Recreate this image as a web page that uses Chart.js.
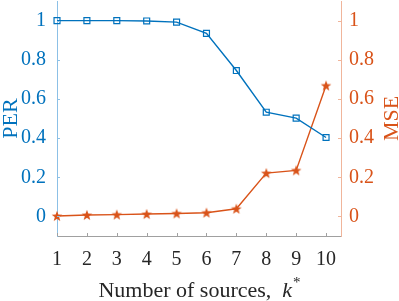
<!DOCTYPE html>
<html><head><meta charset="utf-8">
<script src="https://cdn.jsdelivr.net/npm/chart.js@4.4.0/dist/chart.umd.min.js"></script>
<style>html,body{margin:0;padding:0;background:#fff}#wrap{width:399px;height:301px}</style>
</head><body><div id="wrap"><canvas id="c"></canvas></div>
<script>
const sources = [1, 2, 3, 4, 5, 6, 7, 8, 9, 10]
const per = [1, 1, 1, 0.998, 0.992, 0.935, 0.745, 0.532, 0.502, 0.403]
const mse = [0.002, 0.007, 0.009, 0.012, 0.015, 0.019, 0.039, 0.221, 0.235, 0.668]
const yTicks = [0, 0.2, 0.4, 0.6, 0.8, 1]

const blue = '#0072BD'
const orange = '#D95319'
const serif = "'Liberation Serif', 'Times New Roman', serif"

function starImg(color) {
    const c = document.createElement('canvas')
    c.width = c.height = 12
    const g = c.getContext('2d')
    g.fillStyle = color
    g.beginPath()
    for (let i = 0; i < 10; i++) {
        const r = i % 2 ? 2.3 : 5.6
        const a = -Math.PI / 2 + i * Math.PI / 5
        g.lineTo(6 + r * Math.cos(a), 6.4 + r * Math.sin(a))
    }
    g.closePath()
    g.fill()
    return c
}

function noPad(s) { s.paddingTop = 0; s.paddingBottom = 0 }

const decor = {
    id: 'decor',
    afterDraw(chart) {
        const {ctx, chartArea: a, scales: {x, y, y1}} = chart
        ctx.save()
        ctx.lineWidth = 1
        ctx.strokeStyle = '#8cc0e6'
        yTicks.forEach(v => {
            const p = Math.round(y.getPixelForValue(v)) + 0.5
            ctx.beginPath(); ctx.moveTo(a.left, p); ctx.lineTo(a.left + 3, p); ctx.stroke()
        })
        ctx.strokeStyle = '#f0b59b'
        yTicks.forEach(v => {
            const p = Math.round(y1.getPixelForValue(v)) + 0.5
            ctx.beginPath(); ctx.moveTo(a.right, p); ctx.lineTo(a.right - 3, p); ctx.stroke()
        })
        ctx.strokeStyle = '#a0a0a0'
        sources.forEach(v => {
            const p = Math.round(x.getPixelForValue(v)) + 0.5
            ctx.beginPath(); ctx.moveTo(p, a.bottom); ctx.lineTo(p, a.bottom - 3); ctx.stroke()
        })

        const midY = (a.top + a.bottom) / 2
        ctx.textBaseline = 'alphabetic'
        ctx.textAlign = 'center'
        ctx.font = '22px ' + serif
        // left axis title
        ctx.save()
        ctx.translate(17, midY)
        ctx.rotate(-Math.PI / 2)
        ctx.fillStyle = blue
        ctx.fillText('PER', 0, 0)
        ctx.restore()
        // right axis title
        ctx.save()
        ctx.translate(398, midY)
        ctx.rotate(-Math.PI / 2)
        ctx.fillStyle = orange
        ctx.fillText('MSE', 0, 0)
        ctx.restore()

        // x axis title with italic k and superscript *
        ctx.textAlign = 'left'
        const t1 = 'Number of sources,  '
        const t2 = 'k'
        const t3 = '*'
        ctx.fillStyle = '#262626'
        ctx.font = '22px ' + serif
        const w1 = ctx.measureText(t1).width
        ctx.font = 'italic 22px ' + serif
        const w2 = ctx.measureText(t2).width
        ctx.font = '15px ' + serif
        const w3 = ctx.measureText(t3).width
        let sx = (a.left + a.right) / 2 - (w1 + w2 + w3) / 2
        const by = 297
        ctx.font = '22px ' + serif
        ctx.fillText(t1, sx, by)
        sx += w1
        ctx.font = 'italic 22px ' + serif
        ctx.fillText(t2, sx, by)
        sx += w2 + 1
        ctx.font = '15px ' + serif
        ctx.fillText(t3, sx, by - 10)
        ctx.restore()
    }
}

const fmt = v => String(+v.toFixed(1))

const chart = new Chart(document.getElementById('c'), {
    type: 'line',
    data: {
        datasets: [{
            label: 'PER',
            data: sources.map((s, i) => ({x: s, y: per[i]})),
            yAxisID: 'y',
            borderColor: blue,
            borderWidth: 1.4,
            pointStyle: 'rect',
            pointRadius: 4.2,
            pointBorderWidth: 1.2,
            pointBorderColor: blue,
            pointBackgroundColor: 'rgba(0,0,0,0)',
            tension: 0,
            clip: false
        }, {
            label: 'MSE',
            data: sources.map((s, i) => ({x: s, y: mse[i]})),
            yAxisID: 'y1',
            borderColor: orange,
            borderWidth: 1.4,
            pointStyle: starImg(orange),
            tension: 0,
            clip: false
        }]
    },
    options: {
        responsive: true,
        maintainAspectRatio: false,
        animation: false,
        layout: {autoPadding: false, padding: {top: 1, left: 0, right: 0, bottom: 0}},
        plugins: {legend: {display: false}, tooltip: {enabled: false}},
        scales: {
            x: {
                type: 'linear',
                min: 1,
                max: 10.5,
                afterBuildTicks: s => { s.ticks = sources.map(v => ({value: v})) },
                afterFit: s => { s.height = 65 },
                grid: {display: false, drawTicks: false},
                border: {display: true, color: '#a0a0a0', width: 1},
                ticks: {color: '#262626', font: {family: serif, size: 20}, padding: 12, maxRotation: 0}
            },
            y: {
                position: 'left',
                min: -0.1,
                max: 1.1,
                afterBuildTicks: s => { s.ticks = yTicks.map(v => ({value: v})) },
                afterFit: s => { s.width = 57; noPad(s) },
                grid: {display: false, drawTicks: false},
                border: {display: true, color: '#8cc0e6', width: 1},
                ticks: {color: blue, font: {family: serif, size: 20}, padding: 11, callback: fmt}
            },
            y1: {
                position: 'right',
                min: -0.1,
                max: 1.1,
                afterBuildTicks: s => { s.ticks = yTicks.map(v => ({value: v})) },
                afterFit: s => { s.width = 58; noPad(s) },
                grid: {display: false, drawTicks: false},
                border: {display: true, color: '#f0b59b', width: 1},
                ticks: {color: orange, font: {family: serif, size: 20}, padding: 8, callback: fmt}
            }
        }
    },
    plugins: [decor]
})
</script>
</body></html>
